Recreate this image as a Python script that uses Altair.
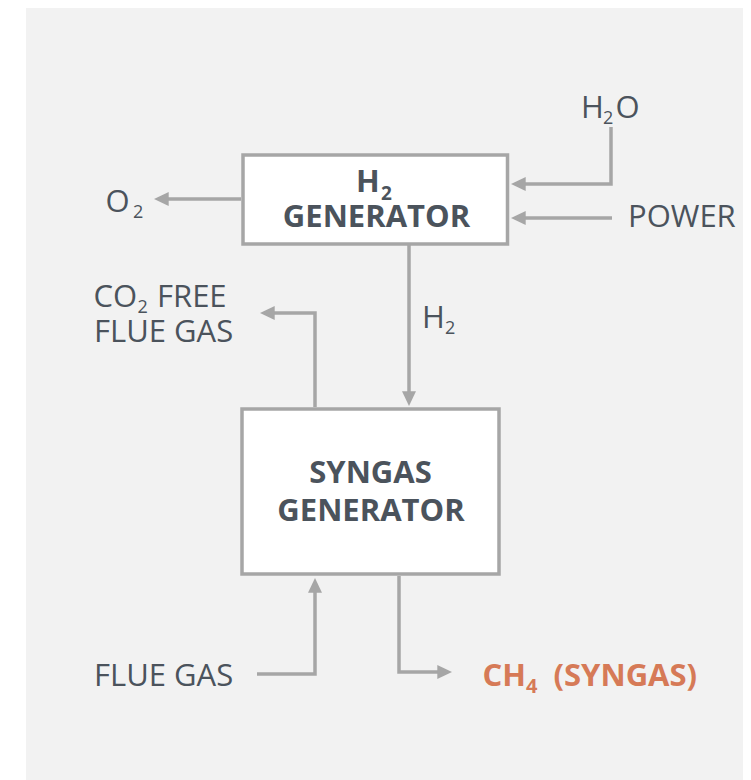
import altair as alt
import pandas as pd

# ---------------- data (reference pixel coordinates) ----------------
panel_x1, panel_x2, panel_y1, panel_y2 = [26], [745], [5], [790]

box_names = ["H2 GENERATOR", "SYNGAS GENERATOR"]
box_x1 = [243, 242]
box_x2 = [507.5, 499]
box_y1 = [155, 409]
box_y2 = [244, 574]

# connector polylines
o2_x, o2_y = [241, 162], [199, 199]
h2o_x, h2o_y = [611, 611, 518], [127, 184, 184]
power_x, power_y = [612, 518], [218, 218]
h2_x, h2_y = [409, 409], [245, 399]
co2_x, co2_y = [315, 315, 267], [407, 313, 313]
flue_x, flue_y = [257, 315, 315], [674, 674, 585]
ch4_x, ch4_y = [399, 399, 445], [576, 672, 672]

# arrow tips and direction (0=left, 90=up, 180=right, 270=down)
tip_x = [154, 511, 511, 409, 260, 315, 452]
tip_y = [199, 184, 218, 406, 313, 578, 672]
tip_angle = [0, 0, 0, 270, 0, 90, 180]

# regular grey labels
reg_text = ["O", "H", "O", "POWER", "H", "CO", "FREE", "FLUE GAS", "FLUE GAS"]
reg_x = [105.5, 581, 615.5, 628, 422, 93.5, 157, 94, 94]
reg_y = [212, 118, 118, 227, 328, 307, 307, 342, 686]
sub_text = ["2", "2", "2", "2"]
sub_x = [133, 603, 445, 137.5]
sub_y = [218, 124, 334, 313]

# bold box labels
boxlab_text = ["GENERATOR", "SYNGAS", "GENERATOR"]
boxlab_x = [376.5, 370.5, 371]
boxlab_y = [227, 483, 521]
boldh_text, boldh_x, boldh_y = ["H"], [356], [192]
boldsub_text, boldsub_x, boldsub_y = ["2"], [381], [200]

# orange product label
or_text = ["CH", "(SYNGAS)"]
or_x = [482.5, 553.5]
or_y = [686, 686]
orsub_text, orsub_x, orsub_y = ["4"], [526], [693]

# ---------------- build ----------------
W, H = 735, 772
xs = alt.Scale(domain=[8, 8 + W], nice=False, zero=False)
ys = alt.Scale(domain=[8, 8 + H], nice=False, zero=False, reverse=True)

GREY = "#a6a6a6"
TXT = "#4b535c"
ORANGE = "#d67a57"
FONT = "Open Sans"


def X(f):
    return alt.X(f"{f}:Q", scale=xs, axis=None)


def Y(f):
    return alt.Y(f"{f}:Q", scale=ys, axis=None)


panel = alt.Chart(pd.DataFrame({"x": panel_x1, "x2": panel_x2, "y": panel_y1, "y2": panel_y2})).mark_rect(
    color="#f2f2f2"
).encode(x=X("x"), x2="x2:Q", y=Y("y"), y2="y2:Q")

boxes = alt.Chart(pd.DataFrame({"name": box_names, "x": box_x1, "x2": box_x2, "y": box_y1, "y2": box_y2})).mark_rect(
    fill="white", stroke=GREY, strokeWidth=3.5
).encode(x=X("x"), x2="x2:Q", y=Y("y"), y2="y2:Q")

rows = []
for cid, (px, py) in {
    "o2": (o2_x, o2_y), "h2o": (h2o_x, h2o_y), "power": (power_x, power_y),
    "h2": (h2_x, h2_y), "co2": (co2_x, co2_y), "flue": (flue_x, flue_y), "ch4": (ch4_x, ch4_y),
}.items():
    for i, (a, b) in enumerate(zip(px, py)):
        rows.append({"id": cid, "seq": i, "x": a, "y": b})
lines = alt.Chart(pd.DataFrame(rows)).mark_line(
    color=GREY, strokeWidth=3.5, strokeJoin="miter", strokeCap="butt"
).encode(x=X("x"), y=Y("y"), detail="id:N", order="seq:Q")

arrows = alt.Chart(pd.DataFrame({"x": tip_x, "y": tip_y, "a": tip_angle})).mark_point(
    shape="M0,0L2.1,-1L2.1,1Z", filled=True, size=196, color=GREY, opacity=1
).encode(x=X("x"), y=Y("y"), angle=alt.Angle("a:Q", scale=None))


def texts(t, x, y, size, weight, color, align):
    return alt.Chart(pd.DataFrame({"t": t, "x": x, "y": y})).mark_text(
        font=FONT, fontSize=size, fontWeight=weight, color=color, align=align, baseline="alphabetic"
    ).encode(x=X("x"), y=Y("y"), text="t:N")


layers = [
    panel, boxes, lines, arrows,
    texts(reg_text, reg_x, reg_y, 31, "normal", TXT, "left"),
    texts(sub_text, sub_x, sub_y, 18, "normal", TXT, "left"),
    texts(boxlab_text, boxlab_x, boxlab_y, 31, "bold", TXT, "center"),
    texts(boldh_text, boldh_x, boldh_y, 31, "bold", TXT, "left"),
    texts(boldsub_text, boldsub_x, boldsub_y, 19, "bold", TXT, "left"),
    texts(or_text, or_x, or_y, 31, "bold", ORANGE, "left"),
    texts(orsub_text, orsub_x, orsub_y, 20, "bold", ORANGE, "left"),
]

chart = alt.layer(*layers).properties(
    width=W, height=H, padding=0, autosize="none"
).configure_view(stroke=None)

chart.save("out.html", embed_options={"renderer": "svg", "actions": False})
